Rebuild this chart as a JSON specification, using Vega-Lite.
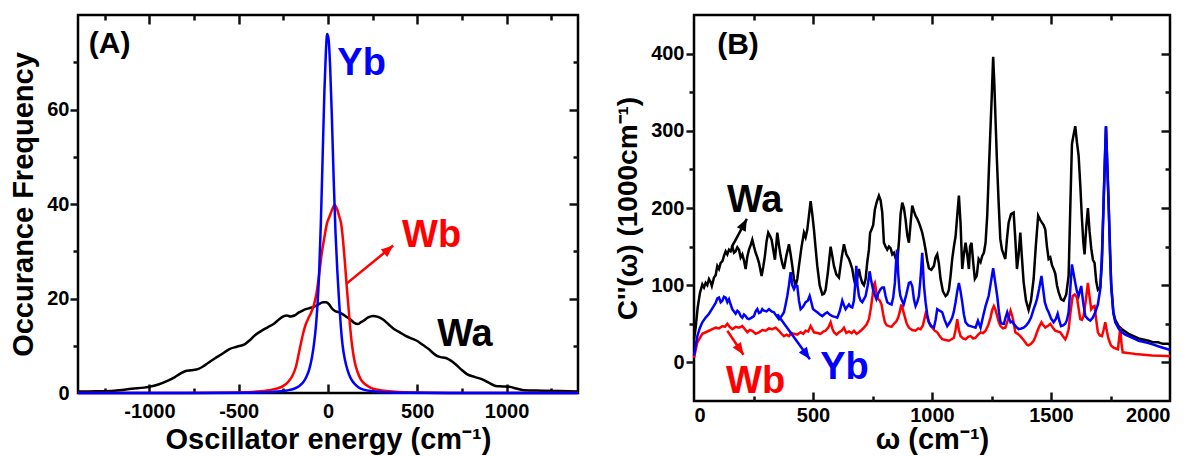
{
  "$schema": "https://vega.github.io/schema/vega-lite/v6.json",
  "background": "white",
  "padding": {"left": 8, "top": 12, "right": 0, "bottom": 0},
  "spacing": 28,
  "datasets": {
    "A": [
      {"s":"Wa","x":-1400,"y":0.3},{"s":"Wa","x":-1300,"y":0.35},{"s":"Wa","x":-1196,"y":0.5},{"s":"Wa","x":-1100,"y":0.9},{"s":"Wa","x":-1003,"y":1.3},{"s":"Wa","x":-950,"y":1.8},{"s":"Wa","x":-896,"y":2.6},{"s":"Wa","x":-860,"y":3.3},{"s":"Wa","x":-832,"y":4},{"s":"Wa","x":-800,"y":4.6},{"s":"Wa","x":-767,"y":4.8},{"s":"Wa","x":-725,"y":5.1},{"s":"Wa","x":-700,"y":5.6},{"s":"Wa","x":-670,"y":6.4},{"s":"Wa","x":-630,"y":7.4},{"s":"Wa","x":-596,"y":8.2},{"s":"Wa","x":-552,"y":9.3},{"s":"Wa","x":-510,"y":9.8},{"s":"Wa","x":-467,"y":10.3},{"s":"Wa","x":-440,"y":11.1},{"s":"Wa","x":-413,"y":12.1},{"s":"Wa","x":-375,"y":13.1},{"s":"Wa","x":-338,"y":13.9},{"s":"Wa","x":-305,"y":14.6},{"s":"Wa","x":-273,"y":15.6},{"s":"Wa","x":-250,"y":16.2},{"s":"Wa","x":-230,"y":16.4},{"s":"Wa","x":-210,"y":16.2},{"s":"Wa","x":-188,"y":16.4},{"s":"Wa","x":-165,"y":17.0},{"s":"Wa","x":-145,"y":17.4},{"s":"Wa","x":-120,"y":17.8},{"s":"Wa","x":-91,"y":18.1},{"s":"Wa","x":-60,"y":18.6},{"s":"Wa","x":-27,"y":19.2},{"s":"Wa","x":-10,"y":19.2},{"s":"Wa","x":5,"y":18.8},{"s":"Wa","x":20,"y":18.0},{"s":"Wa","x":37,"y":17.4},{"s":"Wa","x":60,"y":17.1},{"s":"Wa","x":81,"y":16.7},{"s":"Wa","x":100,"y":16.2},{"s":"Wa","x":124,"y":15.6},{"s":"Wa","x":145,"y":14.9},{"s":"Wa","x":167,"y":14.6},{"s":"Wa","x":185,"y":15.0},{"s":"Wa","x":199,"y":15.3},{"s":"Wa","x":225,"y":16.0},{"s":"Wa","x":252,"y":16.3},{"s":"Wa","x":280,"y":16.1},{"s":"Wa","x":306,"y":15.6},{"s":"Wa","x":340,"y":14.5},{"s":"Wa","x":371,"y":13.5},{"s":"Wa","x":400,"y":12.9},{"s":"Wa","x":435,"y":12.1},{"s":"Wa","x":470,"y":11.5},{"s":"Wa","x":500,"y":11.0},{"s":"Wa","x":530,"y":10.2},{"s":"Wa","x":564,"y":9.3},{"s":"Wa","x":590,"y":8.4},{"s":"Wa","x":607,"y":7.9},{"s":"Wa","x":630,"y":7.6},{"s":"Wa","x":660,"y":7.4},{"s":"Wa","x":690,"y":6.8},{"s":"Wa","x":714,"y":6.1},{"s":"Wa","x":745,"y":5.0},{"s":"Wa","x":778,"y":4.0},{"s":"Wa","x":820,"y":3.4},{"s":"Wa","x":864,"y":2.9},{"s":"Wa","x":900,"y":2.2},{"s":"Wa","x":939,"y":1.5},{"s":"Wa","x":975,"y":1.4},{"s":"Wa","x":1015,"y":1.3},{"s":"Wa","x":1060,"y":0.9},{"s":"Wa","x":1100,"y":0.6},{"s":"Wa","x":1200,"y":0.5},{"s":"Wa","x":1300,"y":0.4},{"s":"Wa","x":1400,"y":0.3},
      {"s":"Wb","x":-1400,"y":0},{"s":"Wb","x":-800,"y":0},{"s":"Wb","x":-500,"y":0.1},{"s":"Wb","x":-400,"y":0.3},{"s":"Wb","x":-330,"y":0.6},{"s":"Wb","x":-280,"y":1.0},{"s":"Wb","x":-250,"y":1.5},{"s":"Wb","x":-220,"y":2.5},{"s":"Wb","x":-200,"y":3.6},{"s":"Wb","x":-180,"y":5.5},{"s":"Wb","x":-160,"y":9},{"s":"Wb","x":-140,"y":12.5},{"s":"Wb","x":-125,"y":14.5},{"s":"Wb","x":-110,"y":15.8},{"s":"Wb","x":-95,"y":17},{"s":"Wb","x":-80,"y":18.5},{"s":"Wb","x":-65,"y":21},{"s":"Wb","x":-50,"y":25},{"s":"Wb","x":-35,"y":29.5},{"s":"Wb","x":-20,"y":33},{"s":"Wb","x":-5,"y":36},{"s":"Wb","x":10,"y":37.5},{"s":"Wb","x":25,"y":39},{"s":"Wb","x":37,"y":39.8},{"s":"Wb","x":50,"y":39},{"s":"Wb","x":62,"y":37.5},{"s":"Wb","x":75,"y":35.5},{"s":"Wb","x":85,"y":32},{"s":"Wb","x":95,"y":27.5},{"s":"Wb","x":105,"y":22.5},{"s":"Wb","x":115,"y":18},{"s":"Wb","x":125,"y":13.5},{"s":"Wb","x":135,"y":10},{"s":"Wb","x":150,"y":6.5},{"s":"Wb","x":165,"y":4.5},{"s":"Wb","x":185,"y":2.8},{"s":"Wb","x":210,"y":1.8},{"s":"Wb","x":240,"y":1.1},{"s":"Wb","x":280,"y":0.7},{"s":"Wb","x":330,"y":0.4},{"s":"Wb","x":400,"y":0.2},{"s":"Wb","x":500,"y":0.1},{"s":"Wb","x":700,"y":0},{"s":"Wb","x":1400,"y":0},
      {"s":"Yb","x":-1400,"y":0},{"s":"Yb","x":-700,"y":0},{"s":"Yb","x":-450,"y":0.05},{"s":"Yb","x":-350,"y":0.15},{"s":"Yb","x":-280,"y":0.3},{"s":"Yb","x":-230,"y":0.55},{"s":"Yb","x":-190,"y":0.9},{"s":"Yb","x":-160,"y":1.5},{"s":"Yb","x":-140,"y":2.2},{"s":"Yb","x":-120,"y":3.5},{"s":"Yb","x":-105,"y":5},{"s":"Yb","x":-90,"y":7.5},{"s":"Yb","x":-78,"y":10.5},{"s":"Yb","x":-68,"y":14},{"s":"Yb","x":-60,"y":18},{"s":"Yb","x":-50,"y":25},{"s":"Yb","x":-40,"y":36},{"s":"Yb","x":-30,"y":50},{"s":"Yb","x":-20,"y":64},{"s":"Yb","x":-12,"y":72},{"s":"Yb","x":-5,"y":76},{"s":"Yb","x":3,"y":75},{"s":"Yb","x":12,"y":69},{"s":"Yb","x":22,"y":58},{"s":"Yb","x":32,"y":45},{"s":"Yb","x":42,"y":34},{"s":"Yb","x":52,"y":26},{"s":"Yb","x":62,"y":19.5},{"s":"Yb","x":72,"y":14},{"s":"Yb","x":82,"y":10},{"s":"Yb","x":95,"y":7},{"s":"Yb","x":110,"y":4.8},{"s":"Yb","x":125,"y":3.3},{"s":"Yb","x":145,"y":2.1},{"s":"Yb","x":170,"y":1.2},{"s":"Yb","x":200,"y":0.7},{"s":"Yb","x":250,"y":0.35},{"s":"Yb","x":320,"y":0.15},{"s":"Yb","x":450,"y":0.05},{"s":"Yb","x":700,"y":0},{"s":"Yb","x":1400,"y":0}
    ],
    "B": [
      {"s":"Wa","x":0,"y":30},{"s":"Wa","x":7,"y":45},{"s":"Wa","x":15,"y":70},{"s":"Wa","x":25,"y":90},{"s":"Wa","x":35,"y":101},{"s":"Wa","x":42,"y":97},{"s":"Wa","x":49,"y":103},{"s":"Wa","x":56,"y":100},{"s":"Wa","x":63,"y":108},{"s":"Wa","x":70,"y":104},{"s":"Wa","x":75,"y":99},{"s":"Wa","x":84,"y":110},{"s":"Wa","x":91,"y":113},{"s":"Wa","x":98,"y":125},{"s":"Wa","x":105,"y":121},{"s":"Wa","x":112,"y":129},{"s":"Wa","x":119,"y":131},{"s":"Wa","x":126,"y":138},{"s":"Wa","x":133,"y":144},{"s":"Wa","x":140,"y":140},{"s":"Wa","x":147,"y":146},{"s":"Wa","x":154,"y":144},{"s":"Wa","x":161,"y":150},{"s":"Wa","x":168,"y":142},{"s":"Wa","x":175,"y":144},{"s":"Wa","x":182,"y":149},{"s":"Wa","x":189,"y":146},{"s":"Wa","x":196,"y":136},{"s":"Wa","x":203,"y":140},{"s":"Wa","x":210,"y":132},{"s":"Wa","x":217,"y":121},{"s":"Wa","x":224,"y":137},{"s":"Wa","x":231,"y":146},{"s":"Wa","x":238,"y":152},{"s":"Wa","x":245,"y":159},{"s":"Wa","x":252,"y":150},{"s":"Wa","x":259,"y":142},{"s":"Wa","x":266,"y":136},{"s":"Wa","x":273,"y":129},{"s":"Wa","x":284,"y":112},{"s":"Wa","x":291,"y":124},{"s":"Wa","x":298,"y":138},{"s":"Wa","x":305,"y":157},{"s":"Wa","x":312,"y":168},{"s":"Wa","x":319,"y":164},{"s":"Wa","x":326,"y":159},{"s":"Wa","x":333,"y":146},{"s":"Wa","x":340,"y":133},{"s":"Wa","x":345,"y":150},{"s":"Wa","x":350,"y":168},{"s":"Wa","x":357,"y":152},{"s":"Wa","x":364,"y":138},{"s":"Wa","x":371,"y":128},{"s":"Wa","x":378,"y":121},{"s":"Wa","x":388,"y":138},{"s":"Wa","x":399,"y":153},{"s":"Wa","x":406,"y":140},{"s":"Wa","x":413,"y":125},{"s":"Wa","x":420,"y":108},{"s":"Wa","x":427,"y":99},{"s":"Wa","x":434,"y":108},{"s":"Wa","x":441,"y":125},{"s":"Wa","x":452,"y":150},{"s":"Wa","x":462,"y":168},{"s":"Wa","x":469,"y":162},{"s":"Wa","x":476,"y":172},{"s":"Wa","x":483,"y":190},{"s":"Wa","x":490,"y":209},{"s":"Wa","x":497,"y":192},{"s":"Wa","x":504,"y":172},{"s":"Wa","x":511,"y":148},{"s":"Wa","x":518,"y":125},{"s":"Wa","x":528,"y":100},{"s":"Wa","x":539,"y":88},{"s":"Wa","x":546,"y":89},{"s":"Wa","x":553,"y":94},{"s":"Wa","x":563,"y":118},{"s":"Wa","x":574,"y":150},{"s":"Wa","x":581,"y":138},{"s":"Wa","x":588,"y":125},{"s":"Wa","x":598,"y":114},{"s":"Wa","x":609,"y":110},{"s":"Wa","x":620,"y":135},{"s":"Wa","x":630,"y":153},{"s":"Wa","x":640,"y":140},{"s":"Wa","x":651,"y":134},{"s":"Wa","x":658,"y":128},{"s":"Wa","x":665,"y":121},{"s":"Wa","x":672,"y":108},{"s":"Wa","x":679,"y":99},{"s":"Wa","x":686,"y":110},{"s":"Wa","x":693,"y":121},{"s":"Wa","x":700,"y":110},{"s":"Wa","x":707,"y":103},{"s":"Wa","x":714,"y":100},{"s":"Wa","x":721,"y":108},{"s":"Wa","x":728,"y":130},{"s":"Wa","x":735,"y":146},{"s":"Wa","x":740,"y":168},{"s":"Wa","x":746,"y":172},{"s":"Wa","x":753,"y":178},{"s":"Wa","x":760,"y":198},{"s":"Wa","x":768,"y":208},{"s":"Wa","x":777,"y":216},{"s":"Wa","x":784,"y":210},{"s":"Wa","x":791,"y":194},{"s":"Wa","x":798,"y":155},{"s":"Wa","x":805,"y":150},{"s":"Wa","x":812,"y":146},{"s":"Wa","x":819,"y":150},{"s":"Wa","x":826,"y":148},{"s":"Wa","x":833,"y":140},{"s":"Wa","x":840,"y":142},{"s":"Wa","x":847,"y":135},{"s":"Wa","x":854,"y":129},{"s":"Wa","x":862,"y":160},{"s":"Wa","x":868,"y":192},{"s":"Wa","x":875,"y":207},{"s":"Wa","x":882,"y":200},{"s":"Wa","x":889,"y":185},{"s":"Wa","x":896,"y":165},{"s":"Wa","x":903,"y":155},{"s":"Wa","x":910,"y":180},{"s":"Wa","x":917,"y":203},{"s":"Wa","x":924,"y":196},{"s":"Wa","x":931,"y":190},{"s":"Wa","x":938,"y":186},{"s":"Wa","x":945,"y":181},{"s":"Wa","x":952,"y":175},{"s":"Wa","x":959,"y":168},{"s":"Wa","x":966,"y":158},{"s":"Wa","x":973,"y":146},{"s":"Wa","x":980,"y":132},{"s":"Wa","x":987,"y":122},{"s":"Wa","x":997,"y":120},{"s":"Wa","x":1008,"y":125},{"s":"Wa","x":1015,"y":136},{"s":"Wa","x":1022,"y":140},{"s":"Wa","x":1029,"y":128},{"s":"Wa","x":1036,"y":108},{"s":"Wa","x":1046,"y":92},{"s":"Wa","x":1057,"y":86},{"s":"Wa","x":1064,"y":88},{"s":"Wa","x":1071,"y":94},{"s":"Wa","x":1078,"y":112},{"s":"Wa","x":1085,"y":134},{"s":"Wa","x":1092,"y":150},{"s":"Wa","x":1099,"y":163},{"s":"Wa","x":1106,"y":190},{"s":"Wa","x":1113,"y":216},{"s":"Wa","x":1120,"y":180},{"s":"Wa","x":1127,"y":121},{"s":"Wa","x":1134,"y":140},{"s":"Wa","x":1141,"y":155},{"s":"Wa","x":1148,"y":140},{"s":"Wa","x":1155,"y":121},{"s":"Wa","x":1160,"y":150},{"s":"Wa","x":1166,"y":155},{"s":"Wa","x":1173,"y":130},{"s":"Wa","x":1180,"y":108},{"s":"Wa","x":1188,"y":112},{"s":"Wa","x":1196,"y":134},{"s":"Wa","x":1204,"y":130},{"s":"Wa","x":1211,"y":138},{"s":"Wa","x":1218,"y":142},{"s":"Wa","x":1225,"y":155},{"s":"Wa","x":1232,"y":190},{"s":"Wa","x":1238,"y":241},{"s":"Wa","x":1244,"y":290},{"s":"Wa","x":1250,"y":336},{"s":"Wa","x":1257,"y":396},{"s":"Wa","x":1262,"y":360},{"s":"Wa","x":1266,"y":323},{"s":"Wa","x":1273,"y":260},{"s":"Wa","x":1280,"y":207},{"s":"Wa","x":1287,"y":160},{"s":"Wa","x":1294,"y":146},{"s":"Wa","x":1301,"y":140},{"s":"Wa","x":1308,"y":134},{"s":"Wa","x":1315,"y":160},{"s":"Wa","x":1322,"y":181},{"s":"Wa","x":1332,"y":192},{"s":"Wa","x":1343,"y":194},{"s":"Wa","x":1350,"y":160},{"s":"Wa","x":1357,"y":121},{"s":"Wa","x":1364,"y":140},{"s":"Wa","x":1371,"y":168},{"s":"Wa","x":1378,"y":135},{"s":"Wa","x":1385,"y":104},{"s":"Wa","x":1395,"y":80},{"s":"Wa","x":1406,"y":68},{"s":"Wa","x":1416,"y":80},{"s":"Wa","x":1427,"y":108},{"s":"Wa","x":1436,"y":150},{"s":"Wa","x":1446,"y":190},{"s":"Wa","x":1454,"y":185},{"s":"Wa","x":1462,"y":181},{"s":"Wa","x":1469,"y":178},{"s":"Wa","x":1476,"y":172},{"s":"Wa","x":1483,"y":150},{"s":"Wa","x":1490,"y":134},{"s":"Wa","x":1497,"y":136},{"s":"Wa","x":1504,"y":126},{"s":"Wa","x":1511,"y":121},{"s":"Wa","x":1518,"y":115},{"s":"Wa","x":1525,"y":100},{"s":"Wa","x":1532,"y":91},{"s":"Wa","x":1542,"y":82},{"s":"Wa","x":1553,"y":80},{"s":"Wa","x":1564,"y":88},{"s":"Wa","x":1574,"y":112},{"s":"Wa","x":1581,"y":200},{"s":"Wa","x":1588,"y":283},{"s":"Wa","x":1595,"y":295},{"s":"Wa","x":1602,"y":306},{"s":"Wa","x":1609,"y":285},{"s":"Wa","x":1616,"y":268},{"s":"Wa","x":1623,"y":230},{"s":"Wa","x":1630,"y":186},{"s":"Wa","x":1636,"y":155},{"s":"Wa","x":1641,"y":140},{"s":"Wa","x":1648,"y":175},{"s":"Wa","x":1655,"y":200},{"s":"Wa","x":1662,"y":170},{"s":"Wa","x":1669,"y":148},{"s":"Wa","x":1676,"y":133},{"s":"Wa","x":1683,"y":129},{"s":"Wa","x":1690,"y":105},{"s":"Wa","x":1697,"y":94},{"s":"Wa","x":1707,"y":97},{"s":"Wa","x":1714,"y":130},{"s":"Wa","x":1721,"y":207},{"s":"Wa","x":1731,"y":306},{"s":"Wa","x":1742,"y":207},{"s":"Wa","x":1753,"y":100},{"s":"Wa","x":1762,"y":65},{"s":"Wa","x":1770,"y":55},{"s":"Wa","x":1784,"y":47},{"s":"Wa","x":1798,"y":43},{"s":"Wa","x":1812,"y":40},{"s":"Wa","x":1826,"y":37},{"s":"Wa","x":1840,"y":35},{"s":"Wa","x":1854,"y":33},{"s":"Wa","x":1868,"y":31},{"s":"Wa","x":1882,"y":30},{"s":"Wa","x":1896,"y":29},{"s":"Wa","x":1910,"y":28},{"s":"Wa","x":1930,"y":26},{"s":"Wa","x":1950,"y":26},{"s":"Wa","x":1970,"y":24},{"s":"Wa","x":1991,"y":24},{"s":"Wa","x":2000,"y":23},
      {"s":"Wb","x":0,"y":6},{"s":"Wb","x":14,"y":26},{"s":"Wb","x":35,"y":37},{"s":"Wb","x":63,"y":41},{"s":"Wb","x":77,"y":43},{"s":"Wb","x":91,"y":45},{"s":"Wb","x":105,"y":44},{"s":"Wb","x":119,"y":47},{"s":"Wb","x":130,"y":46},{"s":"Wb","x":140,"y":50},{"s":"Wb","x":150,"y":46},{"s":"Wb","x":161,"y":43},{"s":"Wb","x":175,"y":46},{"s":"Wb","x":189,"y":45},{"s":"Wb","x":203,"y":47},{"s":"Wb","x":214,"y":43},{"s":"Wb","x":224,"y":39},{"s":"Wb","x":235,"y":42},{"s":"Wb","x":245,"y":41},{"s":"Wb","x":259,"y":37},{"s":"Wb","x":273,"y":39},{"s":"Wb","x":287,"y":42},{"s":"Wb","x":301,"y":41},{"s":"Wb","x":315,"y":44},{"s":"Wb","x":329,"y":43},{"s":"Wb","x":343,"y":45},{"s":"Wb","x":357,"y":41},{"s":"Wb","x":368,"y":37},{"s":"Wb","x":378,"y":34},{"s":"Wb","x":389,"y":36},{"s":"Wb","x":399,"y":34},{"s":"Wb","x":410,"y":38},{"s":"Wb","x":420,"y":37},{"s":"Wb","x":434,"y":36},{"s":"Wb","x":448,"y":39},{"s":"Wb","x":459,"y":37},{"s":"Wb","x":469,"y":41},{"s":"Wb","x":480,"y":40},{"s":"Wb","x":490,"y":47},{"s":"Wb","x":497,"y":43},{"s":"Wb","x":504,"y":39},{"s":"Wb","x":518,"y":38},{"s":"Wb","x":532,"y":37},{"s":"Wb","x":543,"y":40},{"s":"Wb","x":553,"y":41},{"s":"Wb","x":564,"y":45},{"s":"Wb","x":574,"y":52},{"s":"Wb","x":581,"y":44},{"s":"Wb","x":588,"y":39},{"s":"Wb","x":599,"y":36},{"s":"Wb","x":609,"y":39},{"s":"Wb","x":620,"y":41},{"s":"Wb","x":630,"y":45},{"s":"Wb","x":640,"y":38},{"s":"Wb","x":651,"y":40},{"s":"Wb","x":662,"y":38},{"s":"Wb","x":672,"y":41},{"s":"Wb","x":683,"y":37},{"s":"Wb","x":693,"y":39},{"s":"Wb","x":704,"y":42},{"s":"Wb","x":714,"y":45},{"s":"Wb","x":725,"y":49},{"s":"Wb","x":735,"y":56},{"s":"Wb","x":743,"y":70},{"s":"Wb","x":750,"y":86},{"s":"Wb","x":755,"y":100},{"s":"Wb","x":760,"y":103},{"s":"Wb","x":767,"y":90},{"s":"Wb","x":774,"y":82},{"s":"Wb","x":781,"y":80},{"s":"Wb","x":788,"y":75},{"s":"Wb","x":795,"y":62},{"s":"Wb","x":802,"y":52},{"s":"Wb","x":810,"y":48},{"s":"Wb","x":819,"y":47},{"s":"Wb","x":830,"y":46},{"s":"Wb","x":840,"y":50},{"s":"Wb","x":850,"y":53},{"s":"Wb","x":858,"y":58},{"s":"Wb","x":865,"y":66},{"s":"Wb","x":871,"y":75},{"s":"Wb","x":878,"y":68},{"s":"Wb","x":885,"y":60},{"s":"Wb","x":894,"y":50},{"s":"Wb","x":903,"y":45},{"s":"Wb","x":917,"y":42},{"s":"Wb","x":931,"y":41},{"s":"Wb","x":942,"y":44},{"s":"Wb","x":952,"y":43},{"s":"Wb","x":962,"y":48},{"s":"Wb","x":973,"y":63},{"s":"Wb","x":980,"y":58},{"s":"Wb","x":987,"y":52},{"s":"Wb","x":994,"y":47},{"s":"Wb","x":1001,"y":45},{"s":"Wb","x":1012,"y":41},{"s":"Wb","x":1022,"y":39},{"s":"Wb","x":1033,"y":34},{"s":"Wb","x":1043,"y":30},{"s":"Wb","x":1057,"y":29},{"s":"Wb","x":1071,"y":28},{"s":"Wb","x":1082,"y":30},{"s":"Wb","x":1092,"y":32},{"s":"Wb","x":1099,"y":42},{"s":"Wb","x":1106,"y":56},{"s":"Wb","x":1113,"y":42},{"s":"Wb","x":1120,"y":34},{"s":"Wb","x":1130,"y":31},{"s":"Wb","x":1141,"y":30},{"s":"Wb","x":1152,"y":33},{"s":"Wb","x":1162,"y":34},{"s":"Wb","x":1173,"y":31},{"s":"Wb","x":1183,"y":32},{"s":"Wb","x":1194,"y":36},{"s":"Wb","x":1204,"y":39},{"s":"Wb","x":1215,"y":38},{"s":"Wb","x":1225,"y":41},{"s":"Wb","x":1236,"y":48},{"s":"Wb","x":1246,"y":58},{"s":"Wb","x":1253,"y":68},{"s":"Wb","x":1260,"y":73},{"s":"Wb","x":1267,"y":68},{"s":"Wb","x":1274,"y":60},{"s":"Wb","x":1281,"y":52},{"s":"Wb","x":1288,"y":47},{"s":"Wb","x":1298,"y":44},{"s":"Wb","x":1308,"y":45},{"s":"Wb","x":1319,"y":55},{"s":"Wb","x":1330,"y":67},{"s":"Wb","x":1337,"y":60},{"s":"Wb","x":1343,"y":52},{"s":"Wb","x":1350,"y":39},{"s":"Wb","x":1360,"y":37},{"s":"Wb","x":1371,"y":34},{"s":"Wb","x":1382,"y":30},{"s":"Wb","x":1392,"y":26},{"s":"Wb","x":1399,"y":23},{"s":"Wb","x":1406,"y":22},{"s":"Wb","x":1416,"y":24},{"s":"Wb","x":1427,"y":28},{"s":"Wb","x":1434,"y":33},{"s":"Wb","x":1441,"y":39},{"s":"Wb","x":1450,"y":46},{"s":"Wb","x":1460,"y":52},{"s":"Wb","x":1468,"y":48},{"s":"Wb","x":1476,"y":45},{"s":"Wb","x":1486,"y":47},{"s":"Wb","x":1497,"y":50},{"s":"Wb","x":1508,"y":45},{"s":"Wb","x":1518,"y":41},{"s":"Wb","x":1528,"y":40},{"s":"Wb","x":1539,"y":39},{"s":"Wb","x":1550,"y":34},{"s":"Wb","x":1560,"y":30},{"s":"Wb","x":1567,"y":35},{"s":"Wb","x":1574,"y":43},{"s":"Wb","x":1582,"y":65},{"s":"Wb","x":1591,"y":86},{"s":"Wb","x":1600,"y":88},{"s":"Wb","x":1609,"y":84},{"s":"Wb","x":1616,"y":70},{"s":"Wb","x":1623,"y":56},{"s":"Wb","x":1630,"y":55},{"s":"Wb","x":1637,"y":60},{"s":"Wb","x":1646,"y":80},{"s":"Wb","x":1655,"y":103},{"s":"Wb","x":1662,"y":85},{"s":"Wb","x":1669,"y":69},{"s":"Wb","x":1676,"y":72},{"s":"Wb","x":1683,"y":73},{"s":"Wb","x":1690,"y":55},{"s":"Wb","x":1697,"y":39},{"s":"Wb","x":1705,"y":35},{"s":"Wb","x":1714,"y":34},{"s":"Wb","x":1721,"y":42},{"s":"Wb","x":1728,"y":52},{"s":"Wb","x":1735,"y":40},{"s":"Wb","x":1742,"y":30},{"s":"Wb","x":1752,"y":22},{"s":"Wb","x":1763,"y":19},{"s":"Wb","x":1772,"y":18},{"s":"Wb","x":1781,"y":17},{"s":"Wb","x":1786,"y":30},{"s":"Wb","x":1791,"y":45},{"s":"Wb","x":1796,"y":25},{"s":"Wb","x":1801,"y":13},{"s":"Wb","x":1830,"y":12},{"s":"Wb","x":1854,"y":11},{"s":"Wb","x":1890,"y":10},{"s":"Wb","x":1924,"y":9},{"s":"Wb","x":1960,"y":8.5},{"s":"Wb","x":2000,"y":8},
      {"s":"Yb","x":0,"y":9},{"s":"Yb","x":14,"y":34},{"s":"Yb","x":25,"y":45},{"s":"Yb","x":35,"y":52},{"s":"Yb","x":49,"y":58},{"s":"Yb","x":63,"y":63},{"s":"Yb","x":77,"y":70},{"s":"Yb","x":91,"y":77},{"s":"Yb","x":98,"y":83},{"s":"Yb","x":105,"y":84},{"s":"Yb","x":112,"y":78},{"s":"Yb","x":119,"y":80},{"s":"Yb","x":126,"y":85},{"s":"Yb","x":133,"y":84},{"s":"Yb","x":140,"y":78},{"s":"Yb","x":147,"y":82},{"s":"Yb","x":154,"y":75},{"s":"Yb","x":161,"y":69},{"s":"Yb","x":168,"y":66},{"s":"Yb","x":175,"y":63},{"s":"Yb","x":182,"y":67},{"s":"Yb","x":189,"y":65},{"s":"Yb","x":196,"y":60},{"s":"Yb","x":203,"y":58},{"s":"Yb","x":210,"y":62},{"s":"Yb","x":217,"y":60},{"s":"Yb","x":224,"y":57},{"s":"Yb","x":231,"y":56},{"s":"Yb","x":242,"y":58},{"s":"Yb","x":252,"y":60},{"s":"Yb","x":259,"y":66},{"s":"Yb","x":266,"y":69},{"s":"Yb","x":273,"y":64},{"s":"Yb","x":280,"y":65},{"s":"Yb","x":287,"y":69},{"s":"Yb","x":294,"y":67},{"s":"Yb","x":305,"y":66},{"s":"Yb","x":315,"y":69},{"s":"Yb","x":326,"y":66},{"s":"Yb","x":336,"y":65},{"s":"Yb","x":347,"y":60},{"s":"Yb","x":357,"y":56},{"s":"Yb","x":368,"y":60},{"s":"Yb","x":378,"y":65},{"s":"Yb","x":385,"y":75},{"s":"Yb","x":392,"y":86},{"s":"Yb","x":399,"y":100},{"s":"Yb","x":406,"y":117},{"s":"Yb","x":413,"y":100},{"s":"Yb","x":420,"y":95},{"s":"Yb","x":427,"y":100},{"s":"Yb","x":434,"y":99},{"s":"Yb","x":441,"y":80},{"s":"Yb","x":448,"y":69},{"s":"Yb","x":458,"y":72},{"s":"Yb","x":469,"y":78},{"s":"Yb","x":478,"y":80},{"s":"Yb","x":486,"y":86},{"s":"Yb","x":493,"y":78},{"s":"Yb","x":500,"y":69},{"s":"Yb","x":509,"y":67},{"s":"Yb","x":518,"y":65},{"s":"Yb","x":529,"y":62},{"s":"Yb","x":539,"y":60},{"s":"Yb","x":550,"y":63},{"s":"Yb","x":560,"y":65},{"s":"Yb","x":570,"y":62},{"s":"Yb","x":581,"y":60},{"s":"Yb","x":592,"y":59},{"s":"Yb","x":602,"y":58},{"s":"Yb","x":612,"y":66},{"s":"Yb","x":623,"y":80},{"s":"Yb","x":630,"y":74},{"s":"Yb","x":637,"y":69},{"s":"Yb","x":644,"y":72},{"s":"Yb","x":651,"y":75},{"s":"Yb","x":658,"y":72},{"s":"Yb","x":665,"y":71},{"s":"Yb","x":672,"y":80},{"s":"Yb","x":677,"y":100},{"s":"Yb","x":682,"y":125},{"s":"Yb","x":687,"y":100},{"s":"Yb","x":693,"y":86},{"s":"Yb","x":700,"y":80},{"s":"Yb","x":707,"y":78},{"s":"Yb","x":714,"y":82},{"s":"Yb","x":721,"y":86},{"s":"Yb","x":730,"y":100},{"s":"Yb","x":738,"y":118},{"s":"Yb","x":745,"y":105},{"s":"Yb","x":752,"y":95},{"s":"Yb","x":759,"y":88},{"s":"Yb","x":766,"y":82},{"s":"Yb","x":775,"y":90},{"s":"Yb","x":784,"y":95},{"s":"Yb","x":791,"y":97},{"s":"Yb","x":798,"y":97},{"s":"Yb","x":805,"y":86},{"s":"Yb","x":812,"y":78},{"s":"Yb","x":821,"y":76},{"s":"Yb","x":830,"y":75},{"s":"Yb","x":837,"y":84},{"s":"Yb","x":844,"y":103},{"s":"Yb","x":849,"y":130},{"s":"Yb","x":853,"y":146},{"s":"Yb","x":858,"y":115},{"s":"Yb","x":863,"y":95},{"s":"Yb","x":867,"y":86},{"s":"Yb","x":874,"y":80},{"s":"Yb","x":881,"y":75},{"s":"Yb","x":892,"y":88},{"s":"Yb","x":903,"y":103},{"s":"Yb","x":910,"y":104},{"s":"Yb","x":917,"y":99},{"s":"Yb","x":924,"y":82},{"s":"Yb","x":931,"y":73},{"s":"Yb","x":938,"y":78},{"s":"Yb","x":945,"y":86},{"s":"Yb","x":952,"y":110},{"s":"Yb","x":959,"y":142},{"s":"Yb","x":966,"y":100},{"s":"Yb","x":973,"y":78},{"s":"Yb","x":980,"y":62},{"s":"Yb","x":987,"y":52},{"s":"Yb","x":997,"y":47},{"s":"Yb","x":1008,"y":45},{"s":"Yb","x":1015,"y":55},{"s":"Yb","x":1022,"y":69},{"s":"Yb","x":1032,"y":67},{"s":"Yb","x":1043,"y":65},{"s":"Yb","x":1053,"y":55},{"s":"Yb","x":1064,"y":47},{"s":"Yb","x":1075,"y":52},{"s":"Yb","x":1085,"y":58},{"s":"Yb","x":1092,"y":66},{"s":"Yb","x":1099,"y":78},{"s":"Yb","x":1106,"y":92},{"s":"Yb","x":1113,"y":103},{"s":"Yb","x":1120,"y":92},{"s":"Yb","x":1127,"y":78},{"s":"Yb","x":1134,"y":62},{"s":"Yb","x":1141,"y":52},{"s":"Yb","x":1152,"y":48},{"s":"Yb","x":1162,"y":47},{"s":"Yb","x":1172,"y":46},{"s":"Yb","x":1183,"y":45},{"s":"Yb","x":1193,"y":54},{"s":"Yb","x":1204,"y":45},{"s":"Yb","x":1215,"y":60},{"s":"Yb","x":1225,"y":73},{"s":"Yb","x":1232,"y":80},{"s":"Yb","x":1238,"y":86},{"s":"Yb","x":1248,"y":105},{"s":"Yb","x":1257,"y":122},{"s":"Yb","x":1265,"y":105},{"s":"Yb","x":1274,"y":86},{"s":"Yb","x":1281,"y":66},{"s":"Yb","x":1288,"y":52},{"s":"Yb","x":1295,"y":50},{"s":"Yb","x":1302,"y":50},{"s":"Yb","x":1309,"y":58},{"s":"Yb","x":1316,"y":65},{"s":"Yb","x":1323,"y":58},{"s":"Yb","x":1330,"y":52},{"s":"Yb","x":1337,"y":53},{"s":"Yb","x":1343,"y":50},{"s":"Yb","x":1354,"y":46},{"s":"Yb","x":1364,"y":43},{"s":"Yb","x":1375,"y":44},{"s":"Yb","x":1385,"y":45},{"s":"Yb","x":1396,"y":48},{"s":"Yb","x":1406,"y":52},{"s":"Yb","x":1416,"y":58},{"s":"Yb","x":1427,"y":69},{"s":"Yb","x":1434,"y":75},{"s":"Yb","x":1441,"y":82},{"s":"Yb","x":1450,"y":95},{"s":"Yb","x":1460,"y":112},{"s":"Yb","x":1467,"y":95},{"s":"Yb","x":1474,"y":78},{"s":"Yb","x":1482,"y":70},{"s":"Yb","x":1490,"y":65},{"s":"Yb","x":1500,"y":57},{"s":"Yb","x":1511,"y":52},{"s":"Yb","x":1520,"y":56},{"s":"Yb","x":1528,"y":63},{"s":"Yb","x":1535,"y":54},{"s":"Yb","x":1542,"y":47},{"s":"Yb","x":1551,"y":48},{"s":"Yb","x":1560,"y":50},{"s":"Yb","x":1567,"y":55},{"s":"Yb","x":1574,"y":65},{"s":"Yb","x":1581,"y":95},{"s":"Yb","x":1588,"y":127},{"s":"Yb","x":1595,"y":115},{"s":"Yb","x":1602,"y":103},{"s":"Yb","x":1609,"y":92},{"s":"Yb","x":1616,"y":86},{"s":"Yb","x":1621,"y":92},{"s":"Yb","x":1627,"y":99},{"s":"Yb","x":1635,"y":78},{"s":"Yb","x":1644,"y":60},{"s":"Yb","x":1655,"y":56},{"s":"Yb","x":1665,"y":54},{"s":"Yb","x":1676,"y":58},{"s":"Yb","x":1686,"y":65},{"s":"Yb","x":1697,"y":75},{"s":"Yb","x":1707,"y":95},{"s":"Yb","x":1714,"y":140},{"s":"Yb","x":1721,"y":207},{"s":"Yb","x":1726,"y":260},{"s":"Yb","x":1731,"y":306},{"s":"Yb","x":1736,"y":260},{"s":"Yb","x":1742,"y":207},{"s":"Yb","x":1748,"y":140},{"s":"Yb","x":1753,"y":99},{"s":"Yb","x":1762,"y":64},{"s":"Yb","x":1770,"y":52},{"s":"Yb","x":1784,"y":44},{"s":"Yb","x":1798,"y":39},{"s":"Yb","x":1812,"y":36},{"s":"Yb","x":1826,"y":34},{"s":"Yb","x":1840,"y":32},{"s":"Yb","x":1854,"y":30},{"s":"Yb","x":1868,"y":28},{"s":"Yb","x":1882,"y":27},{"s":"Yb","x":1896,"y":26},{"s":"Yb","x":1910,"y":25},{"s":"Yb","x":1930,"y":23},{"s":"Yb","x":1950,"y":21},{"s":"Yb","x":1970,"y":19},{"s":"Yb","x":1991,"y":17},{"s":"Yb","x":2000,"y":16}
    ],
    "labA": [
      {"s":"Yb","t":"Yb","x":188,"y":67.3},
      {"s":"Wb","t":"Wb","x":580,"y":31},
      {"s":"Wa","t":"Wa","x":767,"y":10}
    ],
    "arrA": [
      {"s":"Wb","x":102,"y":23.1,"x2":365,"y2":31.2,"a":50}
    ],
    "labB": [
      {"s":"Wa","t":"Wa","x":255,"y":195},
      {"s":"Wb","t":"Wb","x":259,"y":-39},
      {"s":"Yb","t":"Yb","x":632,"y":-21.6}
    ],
    "arrB": [
      {"s":"Wa","x":158,"y":149,"x2":222,"y2":186,"a":27.5},
      {"s":"Wb","x":140,"y":41,"x2":208,"y2":10,"a":146},
      {"s":"Yb","x":350,"y":62.5,"x2":487,"y2":4,"a":144}
    ]
  },
  "hconcat": [
    {
      "width": 500,
      "height": 378,
      "layer": [
        {
          "data": {"name": "A"},
          "mark": {"type": "line", "strokeWidth": 2.5, "interpolate": "monotone"},
          "encoding": {
            "x": {"field": "x", "type": "quantitative", "scale": {"domain": [-1400, 1400], "nice": false, "zero": false},
              "axis": {"orient": "bottom", "values": [-1000, -500, 0, 500, 1000], "labelExpr": "toString(datum.value)", "ticks": false, "labelPadding": 8, "title": "Oscillator energy (cm⁻¹)", "titlePadding": 4}},
            "y": {"field": "y", "type": "quantitative", "scale": {"domain": [0, 80], "nice": false},
              "axis": {"orient": "left", "values": [0, 20, 40, 60], "labelExpr": "toString(datum.value)", "ticks": false, "labelPadding": 9, "title": "Occurance Frequency", "titlePadding": 8}},
            "color": {"field": "s", "type": "nominal", "scale": {"domain": ["Wa", "Wb", "Yb"], "range": ["#000000", "#ff0000", "#0000ff"]}, "legend": null}
          }
        },
        {
          "data": {"values": [{"x": 0, "y": 0}]},
          "mark": {"type": "point", "opacity": 0},
          "encoding": {
            "x": {"field": "x", "type": "quantitative", "scale": {"domain": [-1400, 1400], "nice": false, "zero": false},
              "axis": {"orient": "bottom", "labels": false, "title": null, "values": [-1000, -500, 0, 500, 1000], "tickColor": "#101010", "tickWidth": 2.5, "tickSize": 9, "offset": -9}},
            "y": {"field": "y", "type": "quantitative", "scale": {"domain": [0, 80], "nice": false},
              "axis": {"orient": "left", "labels": false, "title": null, "values": [20, 40, 60], "tickColor": "#101010", "tickWidth": 2.5, "tickSize": 8}}
          }
        },
        {
          "data": {"values": [{"x": 0, "y": 0}]},
          "mark": {"type": "point", "opacity": 0},
          "encoding": {
            "x": {"field": "x", "type": "quantitative", "scale": {"domain": [-1400, 1400], "nice": false, "zero": false},
              "axis": {"orient": "top", "labels": false, "title": null, "values": [-1000, -500, 0, 500, 1000], "tickColor": "#101010", "tickWidth": 2.5, "tickSize": 9, "offset": -9}},
            "y": {"field": "y", "type": "quantitative", "scale": {"domain": [0, 80], "nice": false},
              "axis": {"orient": "right", "labels": false, "title": null, "values": [20, 40, 60], "tickColor": "#101010", "tickWidth": 2.5, "tickSize": 9, "offset": -9}}
          }
        },
        {
          "data": {"values": [{"x": 0, "y": 0}]},
          "mark": {"type": "point", "opacity": 0},
          "encoding": {
            "x": {"field": "x", "type": "quantitative", "scale": {"domain": [-1400, 1400], "nice": false, "zero": false},
              "axis": {"orient": "bottom", "labels": false, "title": null, "values": [-1250, -750, -250, 250, 750, 1250], "tickColor": "#101010", "tickWidth": 2.5, "tickSize": 5, "offset": -5}},
            "y": {"field": "y", "type": "quantitative", "scale": {"domain": [0, 80], "nice": false},
              "axis": {"orient": "left", "labels": false, "title": null, "values": [10, 30, 50, 70], "tickColor": "#101010", "tickWidth": 2.5, "tickSize": 5}}
          }
        },
        {
          "data": {"values": [{"x": 0, "y": 0}]},
          "mark": {"type": "point", "opacity": 0},
          "encoding": {
            "x": {"field": "x", "type": "quantitative", "scale": {"domain": [-1400, 1400], "nice": false, "zero": false},
              "axis": {"orient": "top", "labels": false, "title": null, "values": [-1250, -750, -250, 250, 750, 1250], "tickColor": "#101010", "tickWidth": 2.5, "tickSize": 5, "offset": -5}},
            "y": {"field": "y", "type": "quantitative", "scale": {"domain": [0, 80], "nice": false},
              "axis": {"orient": "right", "labels": false, "title": null, "values": [10, 30, 50, 70], "tickColor": "#101010", "tickWidth": 2.5, "tickSize": 5, "offset": -5}}
          }
        },
        {
          "data": {"name": "arrA"},
          "mark": {"type": "rule", "strokeWidth": 2.5},
          "encoding": {
            "x": {"field": "x", "type": "quantitative", "scale": {"domain": [-1400, 1400], "nice": false, "zero": false}, "axis": null},
            "y": {"field": "y", "type": "quantitative", "scale": {"domain": [0, 80], "nice": false}, "axis": null},
            "x2": {"field": "x2"},
            "y2": {"field": "y2"},
            "color": {"field": "s", "type": "nominal", "legend": null}
          }
        },
        {
          "data": {"name": "arrA"},
          "mark": {"type": "point", "shape": "M0,0L-1,2.4L1,2.4Z", "filled": true, "opacity": 1, "size": 100},
          "encoding": {
            "x": {"field": "x2", "type": "quantitative", "scale": {"domain": [-1400, 1400], "nice": false, "zero": false}, "axis": null},
            "y": {"field": "y2", "type": "quantitative", "scale": {"domain": [0, 80], "nice": false}, "axis": null},
            "angle": {"field": "a", "type": "quantitative", "scale": null},
            "color": {"field": "s", "type": "nominal", "legend": null}
          }
        },
        {
          "data": {"name": "labA"},
          "mark": {"type": "text", "fontSize": 38, "font": "Liberation Sans", "fontWeight": "bold", "align": "center", "baseline": "alphabetic"},
          "encoding": {
            "x": {"field": "x", "type": "quantitative", "scale": {"domain": [-1400, 1400], "nice": false, "zero": false}, "axis": null},
            "y": {"field": "y", "type": "quantitative", "scale": {"domain": [0, 80], "nice": false}, "axis": null},
            "text": {"field": "t"},
            "color": {"field": "s", "type": "nominal", "legend": null}
          }
        },
        {
          "data": {"values": [{"t": "(A)", "x": -1223, "y": 72}]},
          "mark": {"type": "text", "fontSize": 30, "font": "Liberation Sans", "fontWeight": "bold", "align": "center", "baseline": "alphabetic", "color": "black"},
          "encoding": {
            "x": {"field": "x", "type": "quantitative", "scale": {"domain": [-1400, 1400], "nice": false, "zero": false}, "axis": null},
            "y": {"field": "y", "type": "quantitative", "scale": {"domain": [0, 80], "nice": false}, "axis": null},
            "text": {"field": "t"}
          }
        }
      ],
      "resolve": {"axis": {"x": "independent", "y": "independent"}}
    },
    {
      "width": 476,
      "height": 386,
      "layer": [
        {
          "data": {"name": "B"},
          "mark": {"type": "line", "strokeWidth": 2.5, "interpolate": "linear"},
          "encoding": {
            "x": {"field": "x", "type": "quantitative", "scale": {"domain": [0, 2000], "nice": false},
              "axis": {"orient": "bottom", "values": [0, 500, 1000, 1500, 2000], "labelExpr": "toString(datum.value)", "ticks": false, "labelPadding": 4, "title": "ω (cm⁻¹)", "titlePadding": 0}},
            "y": {"field": "y", "type": "quantitative", "scale": {"domain": [-50, 450], "nice": false},
              "axis": {"orient": "left", "values": [0, 100, 200, 300, 400], "labelExpr": "toString(datum.value)", "ticks": false, "labelPadding": 10, "title": "C''(ω) (1000cm⁻¹)", "titlePadding": 8, "titleFontSize": 28}},
            "color": {"field": "s", "type": "nominal", "scale": {"domain": ["Wa", "Wb", "Yb"], "range": ["#000000", "#ff0000", "#0000ff"]}, "legend": null}
          }
        },
        {
          "data": {"values": [{"x": 0, "y": 0}]},
          "mark": {"type": "point", "opacity": 0},
          "encoding": {
            "x": {"field": "x", "type": "quantitative", "scale": {"domain": [0, 2000], "nice": false},
              "axis": {"orient": "bottom", "labels": false, "title": null, "values": [500, 1000, 1500], "tickColor": "#101010", "tickWidth": 2.5, "tickSize": 9, "offset": -9}},
            "y": {"field": "y", "type": "quantitative", "scale": {"domain": [-50, 450], "nice": false},
              "axis": {"orient": "left", "labels": false, "title": null, "values": [0, 100, 200, 300, 400], "tickColor": "#101010", "tickWidth": 2.5, "tickSize": 8}}
          }
        },
        {
          "data": {"values": [{"x": 0, "y": 0}]},
          "mark": {"type": "point", "opacity": 0},
          "encoding": {
            "x": {"field": "x", "type": "quantitative", "scale": {"domain": [0, 2000], "nice": false},
              "axis": {"orient": "top", "labels": false, "title": null, "values": [500, 1000, 1500], "tickColor": "#101010", "tickWidth": 2.5, "tickSize": 9, "offset": -9}},
            "y": {"field": "y", "type": "quantitative", "scale": {"domain": [-50, 450], "nice": false},
              "axis": {"orient": "right", "labels": false, "title": null, "values": [0, 100, 200, 300, 400], "tickColor": "#101010", "tickWidth": 2.5, "tickSize": 9, "offset": -9}}
          }
        },
        {
          "data": {"values": [{"x": 0, "y": 0}]},
          "mark": {"type": "point", "opacity": 0},
          "encoding": {
            "x": {"field": "x", "type": "quantitative", "scale": {"domain": [0, 2000], "nice": false},
              "axis": {"orient": "bottom", "labels": false, "title": null, "values": [250, 750, 1250, 1750], "tickColor": "#101010", "tickWidth": 2.5, "tickSize": 5, "offset": -5}},
            "y": {"field": "y", "type": "quantitative", "scale": {"domain": [-50, 450], "nice": false},
              "axis": {"orient": "left", "labels": false, "title": null, "values": [50, 150, 250, 350], "tickColor": "#101010", "tickWidth": 2.5, "tickSize": 5}}
          }
        },
        {
          "data": {"values": [{"x": 0, "y": 0}]},
          "mark": {"type": "point", "opacity": 0},
          "encoding": {
            "x": {"field": "x", "type": "quantitative", "scale": {"domain": [0, 2000], "nice": false},
              "axis": {"orient": "top", "labels": false, "title": null, "values": [250, 750, 1250, 1750], "tickColor": "#101010", "tickWidth": 2.5, "tickSize": 5, "offset": -5}},
            "y": {"field": "y", "type": "quantitative", "scale": {"domain": [-50, 450], "nice": false},
              "axis": {"orient": "right", "labels": false, "title": null, "values": [50, 150, 250, 350], "tickColor": "#101010", "tickWidth": 2.5, "tickSize": 5, "offset": -5}}
          }
        },
        {
          "data": {"name": "arrB"},
          "mark": {"type": "rule", "strokeWidth": 2.5},
          "encoding": {
            "x": {"field": "x", "type": "quantitative", "scale": {"domain": [0, 2000], "nice": false}, "axis": null},
            "y": {"field": "y", "type": "quantitative", "scale": {"domain": [-50, 450], "nice": false}, "axis": null},
            "x2": {"field": "x2"},
            "y2": {"field": "y2"},
            "color": {"field": "s", "type": "nominal", "legend": null}
          }
        },
        {
          "data": {"name": "arrB"},
          "mark": {"type": "point", "shape": "M0,0L-1,2.4L1,2.4Z", "filled": true, "opacity": 1, "size": 100},
          "encoding": {
            "x": {"field": "x2", "type": "quantitative", "scale": {"domain": [0, 2000], "nice": false}, "axis": null},
            "y": {"field": "y2", "type": "quantitative", "scale": {"domain": [-50, 450], "nice": false}, "axis": null},
            "angle": {"field": "a", "type": "quantitative", "scale": null},
            "color": {"field": "s", "type": "nominal", "legend": null}
          }
        },
        {
          "data": {"name": "labB"},
          "mark": {"type": "text", "fontSize": 38, "font": "Liberation Sans", "fontWeight": "bold", "align": "center", "baseline": "alphabetic"},
          "encoding": {
            "x": {"field": "x", "type": "quantitative", "scale": {"domain": [0, 2000], "nice": false}, "axis": null},
            "y": {"field": "y", "type": "quantitative", "scale": {"domain": [-50, 450], "nice": false}, "axis": null},
            "text": {"field": "t"},
            "color": {"field": "s", "type": "nominal", "legend": null}
          }
        },
        {
          "data": {"values": [{"t": "(B)", "x": 185, "y": 399}]},
          "mark": {"type": "text", "fontSize": 30, "font": "Liberation Sans", "fontWeight": "bold", "align": "center", "baseline": "alphabetic", "color": "black"},
          "encoding": {
            "x": {"field": "x", "type": "quantitative", "scale": {"domain": [0, 2000], "nice": false}, "axis": null},
            "y": {"field": "y", "type": "quantitative", "scale": {"domain": [-50, 450], "nice": false}, "axis": null},
            "text": {"field": "t"}
          }
        }
      ],
      "resolve": {"axis": {"x": "independent", "y": "independent"}}
    }
  ],
  "config": {
    "view": {"stroke": "black", "strokeWidth": 2.5},
    "axis": {
      "domain": false, "grid": false,
      "labelFont": "Liberation Sans", "labelFontWeight": "bold", "labelFontSize": 20, "labelColor": "black",
      "titleFont": "Liberation Sans", "titleFontWeight": "bold", "titleFontSize": 29, "titleColor": "black"
    }
  }
}
